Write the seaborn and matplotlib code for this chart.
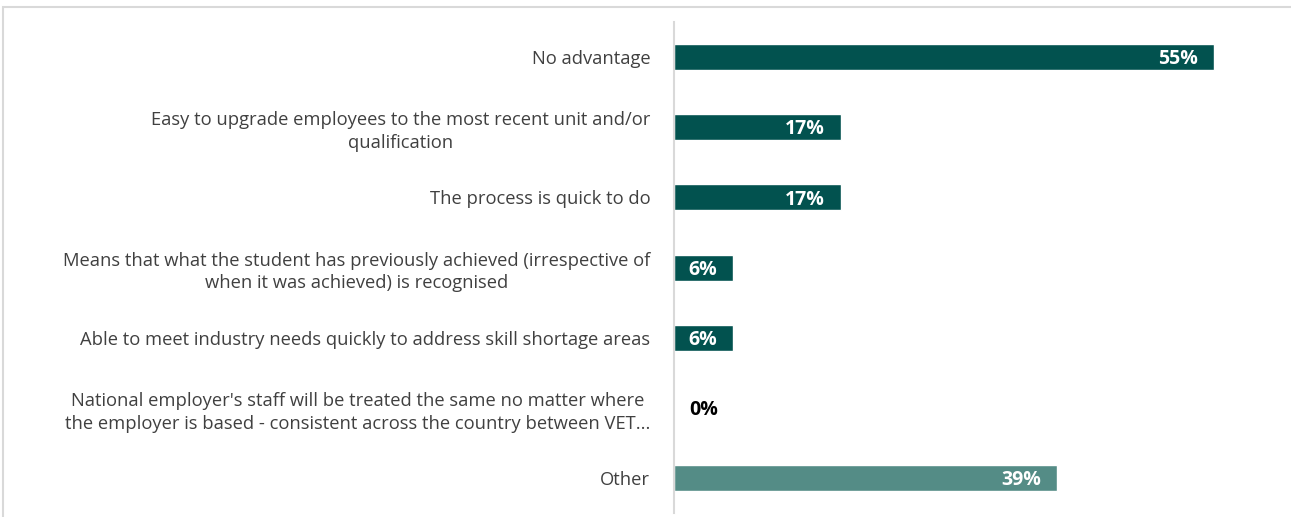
import matplotlib
matplotlib.use("Agg")
import matplotlib.pyplot as plt
import seaborn as sns
import pandas as pd
from matplotlib.patches import Rectangle

categories = [
    "No advantage",
    "Easy to upgrade employees to the most recent unit and/or\nqualification",
    "The process is quick to do",
    "Means that what the student has previously achieved (irrespective of\nwhen it was achieved) is recognised",
    "Able to meet industry needs quickly to address skill shortage areas",
    "National employer's staff will be treated the same no matter where\nthe employer is based - consistent across the country between VET...",
    "Other",
]
values = [55, 17, 17, 6, 6, 0, 39]
groups = ["main", "main", "main", "main", "main", "main", "other"]

palette = {"main": "#02524F", "other": "#548C86"}

df = pd.DataFrame({"category": categories, "value": values, "group": groups})

sns.set_theme(style="white")
plt.rcParams["font.family"] = ["Open Sans", "DejaVu Sans"]

fig = plt.figure(figsize=(12.91, 5.17), dpi=100)
ax = fig.add_axes([0.522, 0.008, 0.456, 0.949])

sns.barplot(data=df, y="category", x="value", hue="group", palette=palette,
            orient="h", width=0.37, dodge=False, legend=False, ax=ax,
            saturation=1)

ax.set_xlim(0, 60)
ax.set_ylim(6.5, -0.5)
ax.set_xlabel("")
ax.set_ylabel("")
ax.set_xticks([])
for side in ["top", "right", "bottom"]:
    ax.spines[side].set_visible(False)
ax.spines["left"].set_color("#d9d9d9")
ax.spines["left"].set_linewidth(1.5)
ax.tick_params(axis="y", length=0, pad=17, labelsize=13.2, labelcolor="#404040")
for lbl in ax.get_yticklabels():
    lbl.set_multialignment("center")
    lbl.set_linespacing(1.35)

for i, v in enumerate(values):
    if v > 0:
        ax.text(v - 1.6, i + 0.03, f"{v}%", ha="right", va="center", color="white",
                fontsize=14, fontweight="bold")
    else:
        ax.text(v + 1.6, i + 0.03, f"{v}%", ha="left", va="center", color="black",
                fontsize=14, fontweight="bold")

# outer frame of the chart area
fig.patches.append(Rectangle((3 / 1291, -0.1), 1.1, 1 - 7 / 517 + 0.1,
                             transform=fig.transFigure, fill=False,
                             edgecolor="#d9d9d9", linewidth=1.5))

fig.savefig("out.png", dpi=100)
